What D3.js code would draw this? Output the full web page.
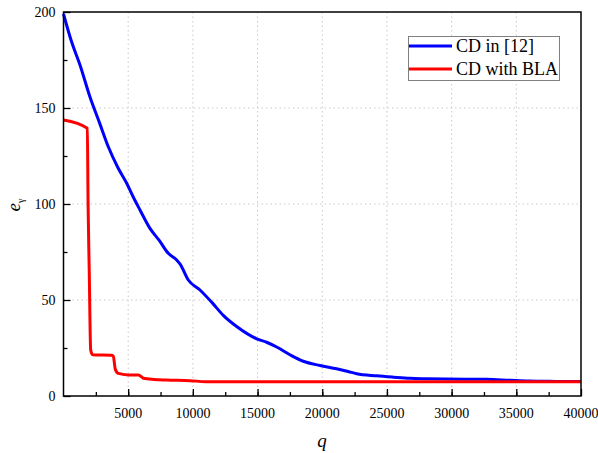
<!DOCTYPE html>
<html>
<head>
  <meta charset="utf-8">
  <script src="https://d3js.org/d3.v7.min.js"></script>
  <style type="text/css">
    body { margin: 0; background: #fff; }
  </style>
</head>
<body>
<svg id="chart" width="598" height="453" font-family="'Liberation Serif', 'DejaVu Serif', Times, serif"></svg>
<script>
  // blue series: CD in [12]
  const blueQ = [0, 600, 1275, 2048, 2800, 3463, 4200, 4884, 5400, 5912, 6685, 7400, 8100, 8748, 9003, 9645,
    10549, 11500, 12350, 13385, 14930, 15700, 16476, 17500, 18530, 19822, 21113, 22000, 22658, 24204,
    25500, 26777, 28000, 29614, 32705, 34500, 36000, 38000, 40000];
  const blueE = [199, 185, 172.4, 155.7, 142, 129.8, 119, 110.8, 103.5, 96.9, 87.3, 81, 74.3, 70.8, 68.8, 60.4,
    55.2, 48.5, 42, 36.2, 29.8, 28, 25.5, 21.5, 18.1, 15.9, 14.2, 12.8, 11.6, 10.5,
    9.8, 9.2, 9.0, 8.85, 8.7, 8.2, 7.8, 7.6, 7.5];

  // red series: CD with BLA
  const redQ = [0, 1842, 1900, 1990, 2100, 2250, 3700, 3850, 4000, 4236, 5000, 5780, 6000, 6170, 7000, 7975, 9776, 11000, 40000];
  const redE = [143.7, 139.4, 100, 65, 24, 21.5, 21.2, 20.8, 14, 11.8, 11.0, 10.9, 10.2, 9.2, 8.6, 8.3, 8.0, 7.45, 7.45];

  const xTicks = [5000, 10000, 15000, 20000, 25000, 30000, 35000, 40000];
  const yTicks = [0, 50, 100, 150, 200];
  const legendLabels = ['CD in [12]', 'CD with BLA'];

  const serif = "'Liberation Serif', 'DejaVu Serif', Times, serif";
  const svg = d3.select('#chart');
  const pLeft = 63.5, pRight = 581, pTop = 12, pBottom = 396;

  const x = d3.scaleLinear().domain([0, 40000]).range([pLeft, pRight]);
  const y = d3.scaleLinear().domain([0, 200]).range([pBottom, pTop]);

  // grid
  const grid = svg.append('g')
    .attr('stroke', '#c8c8c8')
    .attr('stroke-width', 1)
    .attr('stroke-dasharray', '1.5,3');
  grid.selectAll('.gx').data(xTicks.filter(d => d < 40000)).join('line')
    .attr('x1', d => x(d)).attr('x2', d => x(d))
    .attr('y1', pTop).attr('y2', pBottom);
  grid.selectAll('.gy').data([50, 100, 150]).join('line')
    .attr('x1', pLeft).attr('x2', pRight)
    .attr('y1', d => y(d)).attr('y2', d => y(d));

  // lines
  const line = d3.line().curve(d3.curveMonotoneX)
    .x(d => x(d[0])).y(d => y(d[1]));

  svg.append('path')
    .datum(blueQ.map((q, i) => [q, blueE[i]]))
    .attr('fill', 'none').attr('stroke', '#0000ff').attr('stroke-width', 3)
    .attr('stroke-linejoin', 'round')
    .attr('d', line);

  svg.append('path')
    .datum(redQ.map((q, i) => [q, redE[i]]))
    .attr('fill', 'none').attr('stroke', '#ff0000').attr('stroke-width', 3)
    .attr('stroke-linejoin', 'round')
    .attr('d', line);

  // axes (inward ticks)
  svg.append('g')
    .attr('transform', `translate(0 ${pBottom})`)
    .call(d3.axisTop(x).tickValues(d3.range(2500, 40000, 2500)).tickSize(4).tickFormat(''))
    .call(g => g.select('.domain').remove())
    .call(g => g.selectAll('line').attr('stroke-width', 1.3));
  svg.append('g')
    .attr('transform', `translate(0 ${pBottom})`)
    .call(d3.axisTop(x).tickValues(xTicks).tickSize(7).tickFormat(''))
    .call(g => g.select('.domain').remove())
    .call(g => g.selectAll('line').attr('stroke-width', 1.3));
  svg.append('g').selectAll('text').data(xTicks).join('text')
    .attr('x', d => x(d)).attr('y', pBottom + 22)
    .attr('font-family', serif)
    .attr('text-anchor', 'middle').attr('font-size', 14)
    .text(d => d);

  svg.append('g')
    .attr('transform', `translate(${pLeft} 0)`)
    .call(d3.axisRight(y).tickValues([25, 75, 125, 175]).tickSize(4).tickFormat(''))
    .call(g => g.select('.domain').remove())
    .call(g => g.selectAll('line').attr('stroke-width', 1.3));
  svg.append('g')
    .attr('transform', `translate(${pLeft} 0)`)
    .call(d3.axisRight(y).tickValues(yTicks).tickSize(7).tickFormat(''))
    .call(g => g.select('.domain').remove())
    .call(g => g.selectAll('line').attr('stroke-width', 1.3));
  svg.append('g').selectAll('text').data(yTicks).join('text')
    .attr('x', pLeft - 8).attr('y', d => y(d)).attr('dy', '0.35em')
    .attr('font-family', serif)
    .attr('text-anchor', 'end').attr('font-size', 14)
    .text(d => d);

  // frame
  svg.append('rect')
    .attr('x', pLeft).attr('y', pTop)
    .attr('width', pRight - pLeft).attr('height', pBottom - pTop)
    .attr('fill', 'none').attr('stroke', '#000').attr('stroke-width', 1.5);

  // axis titles
  svg.append('text')
    .attr('x', 322).attr('y', 447)
    .attr('font-family', serif)
    .attr('text-anchor', 'middle').attr('font-size', 19).attr('font-style', 'italic')
    .text('q');
  const yt = svg.append('text')
    .attr('transform', 'translate(20 205) rotate(-90)')
    .attr('font-family', serif)
    .attr('text-anchor', 'middle').attr('font-size', 19).attr('font-style', 'italic');
  yt.append('tspan').text('e');
  yt.append('tspan').attr('font-size', 10).attr('dy', 4).attr('font-style', 'normal').text('γ');

  // legend
  const lg = svg.append('g');
  lg.append('rect')
    .attr('x', 408.5).attr('y', 36.5).attr('width', 151).attr('height', 44)
    .attr('fill', '#fff').attr('stroke', '#808080').attr('stroke-width', 1);
  const colors = ['#0000ff', '#ff0000'];
  legendLabels.forEach((t, i) => {
    const ly = 46 + i * 23;
    lg.append('line').attr('x1', 409).attr('x2', 452).attr('y1', ly).attr('y2', ly)
      .attr('stroke', colors[i]).attr('stroke-width', 3);
    lg.append('text').attr('x', 456).attr('y', ly).attr('dy', '0.35em')
      .attr('font-family', serif)
      .attr('font-size', 18).text(t);
  });
</script>
</body>
</html>
